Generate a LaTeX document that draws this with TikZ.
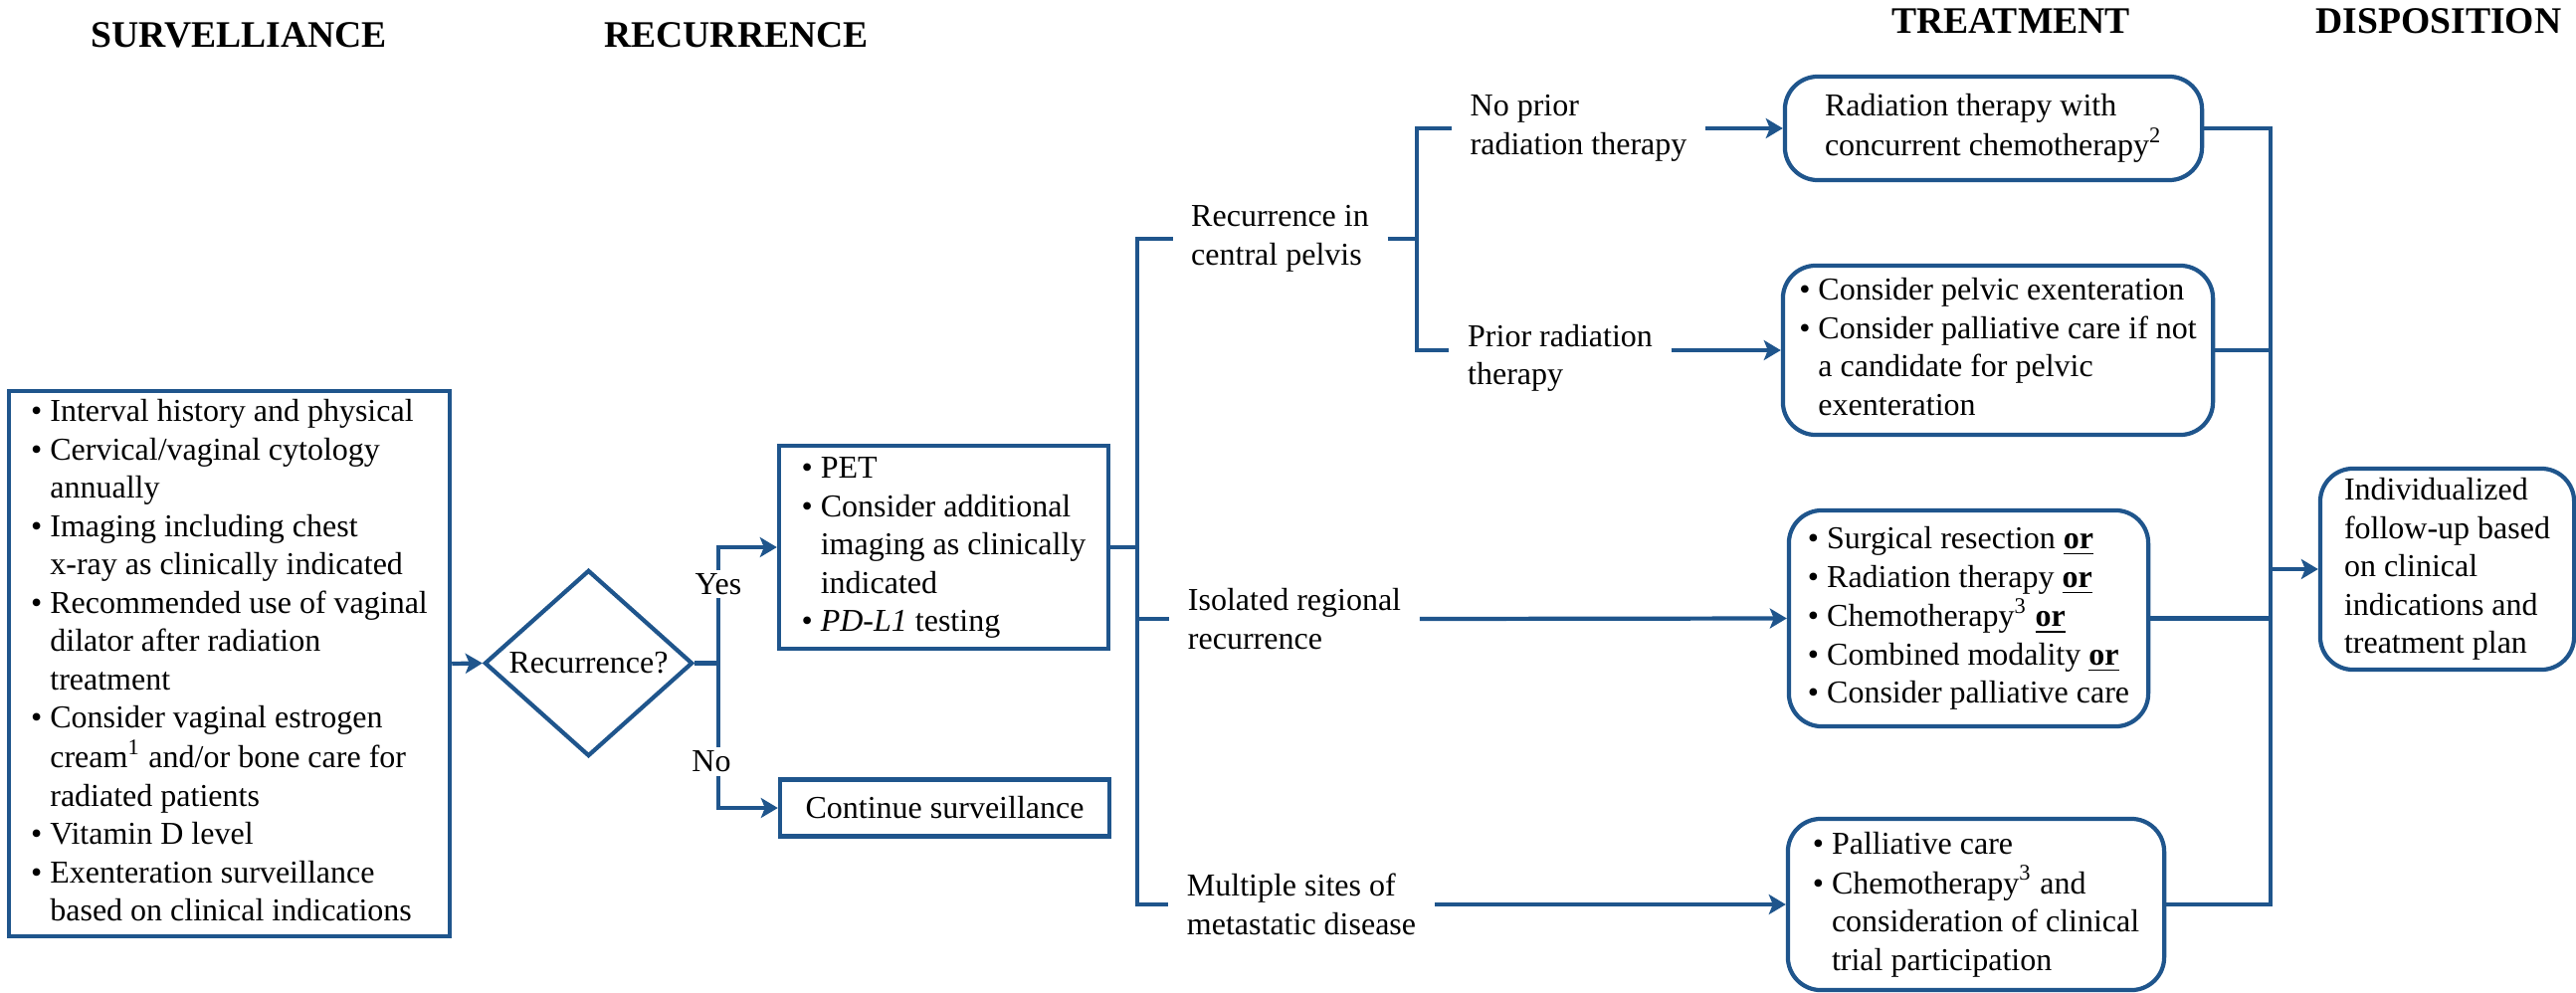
\documentclass[tikz,border=0pt]{standalone}
\usepackage{fontspec}
\setmainfont{Liberation Serif}
\usetikzlibrary{shapes.geometric,arrows.meta}
\definecolor{flow}{RGB}{31,85,140}
\newcommand{\bl}{\textbullet}
\newcommand{\orr}{\underline{\textbf{or}}}
\newcommand{\blist}[1]{\begin{tabular}{@{}l@{\hspace{0.08cm}}l@{}}#1\end{tabular}}
\newcommand{\plist}[1]{\begin{tabular}{@{}l@{}}#1\end{tabular}}
\begin{document}
\begin{tikzpicture}[x=0.01cm,y=-0.01cm,
  every node/.style={font=\fontsize{9.1pt}{10.95pt}\selectfont},
  box/.style={draw=flow, line width=1.2pt, rectangle, inner sep=0pt, align=left},
  rbox/.style={box, rounded corners=0.33cm},
  lbl/.style={inner xsep=0.18cm, inner ysep=0pt, align=left},
  hdr/.style={font=\fontsize{10.7pt}{12pt}\selectfont\bfseries},
  conn/.style={draw=flow, line width=1.2pt},
  arr/.style={conn, -{Stealth[length=0.17cm,width=0.2cm,inset=0.04cm]}},
  yn/.style={fill=white, inner sep=1pt}]
\useasboundingbox (0,0) rectangle (2589,997);

% headers
\node[hdr] (h1) at (240,35) {SURVELLIANCE};
\node[hdr] (h2) at (740,35) {RECURRENCE};
\node[hdr] (h3) at (2021,21) {TREATMENT};
\node[hdr] (h4) at (2451,21) {DISPOSITION};

% surveillance
\node[box, minimum width=4.43cm, minimum height=5.48cm] (surv) at (230.5,667) {\blist{%
\bl & Interval history and physical\\
\bl & Cervical/vaginal cytology\\
 & annually\\
\bl & Imaging including chest\\
 & x-ray as clinically indicated\\
\bl & Recommended use of vaginal\\
 & dilator after radiation\\
 & treatment\\
\bl & Consider vaginal estrogen\\
 & cream\textsuperscript{1} and/or bone care for\\
 & radiated patients\\
\bl & Vitamin D level\\
\bl & Exenteration surveillance\\
 & based on clinical indications}};

% decision
\node[draw=flow, line width=1.2pt, diamond, shape aspect=1.12, inner sep=0pt,
  minimum width=2.09cm, minimum height=1.87cm] (dia) at (591.5,666.5) {Recurrence?};

\node[box, minimum width=3.31cm, minimum height=2.04cm] (pet) at (948.5,550) {\blist{%
\bl & PET\\
\bl & Consider additional\\
 & imaging as clinically\\
 & indicated\\
\bl & \textit{PD-L1} testing}};

\node[box, minimum width=3.31cm, minimum height=0.57cm] (cont) at (949.5,812) {Continue surveillance};

% recurrence types
\node[lbl] (central) at (1286.5,240) {Recurrence in\\central pelvis};
\node[lbl] (noprior) at (1586.5,129) {No prior\\radiation therapy};
\node[lbl] (prior) at (1568,360) {Prior radiation\\therapy};
\node[lbl] (isolated) at (1301,622) {Isolated regional\\recurrence};
\node[lbl] (multi) at (1308,909) {Multiple sites of\\metastatic disease};

% treatment boxes
\node[rbox, minimum width=4.19cm, minimum height=1.04cm] (box1) at (2003.5,129) {\plist{%
Radiation therapy with\\
concurrent chemotherapy\textsuperscript{2}}};

\node[rbox, minimum width=4.32cm, minimum height=1.70cm] (box2) at (2008,352) {\blist{%
\bl & Consider pelvic exenteration\\
\bl & Consider palliative care if not\\
 & a candidate for pelvic\\
 & exenteration}};

\node[rbox, minimum width=3.61cm, minimum height=2.17cm] (box3) at (1978.5,621.5) {\blist{%
\bl & Surgical resection \orr\\
\bl & Radiation therapy \orr\\
\bl & Chemotherapy\textsuperscript{3} \orr\\
\bl & Combined modality \orr\\
\bl & Consider palliative care}};

\node[rbox, minimum width=3.78cm, minimum height=1.72cm] (box4) at (1986,909) {\blist{%
\bl & Palliative care\\
\bl & Chemotherapy\textsuperscript{3} and\\
 & consideration of clinical\\
 & trial participation}};

\node[rbox, minimum width=2.55cm, minimum height=2.02cm] (indiv) at (2459.5,572) {\plist{%
Individualized\\
follow-up based\\
on clinical\\
indications and\\
treatment plan}};

% connectors
\coordinate (j1) at (722,666.5);
\coordinate (b1) at (1143,0);
\coordinate (b2) at (1424,0);
\coordinate (b3) at (2282,0);

\draw[arr] (surv.east) -- (dia.west);
\draw[conn] (dia.east) -- (j1);
\draw[arr] (j1) |- node[yn, pos=0.34]{Yes} (pet.west);
\draw[arr] (j1) |- node[yn, pos=0.34, xshift=-0.07cm]{No} (cont.west);

\draw[conn] (central.west) -| (b1 |- multi.west) -- (multi.west);
\draw[conn] (pet.east) -- (pet.east -| b1);
\draw[conn] (isolated.west -| b1) -- (isolated.west);
\draw[conn] (central.east) -- (central.east -| b2);
\draw[conn] (noprior.west) -| (b2 |- box2.west) -- (prior.west |- box2.west);
\draw[arr] (noprior.east) -- (box1.west);
\draw[arr] (prior.east |- box2.west) -- (box2.west);
\draw[arr] (isolated.east) -- (box3.west);
\draw[arr] (multi.east) -- (box4.west);

\draw[conn] (box1.east) -| (b3 |- box4.east) -- (box4.east);
\draw[conn] (box2.east) -- (box2.east -| b3);
\draw[conn] (box3.east) -- (box3.east -| b3);
\draw[arr] (indiv.west -| b3) -- (indiv.west);
\end{tikzpicture}
\end{document}
